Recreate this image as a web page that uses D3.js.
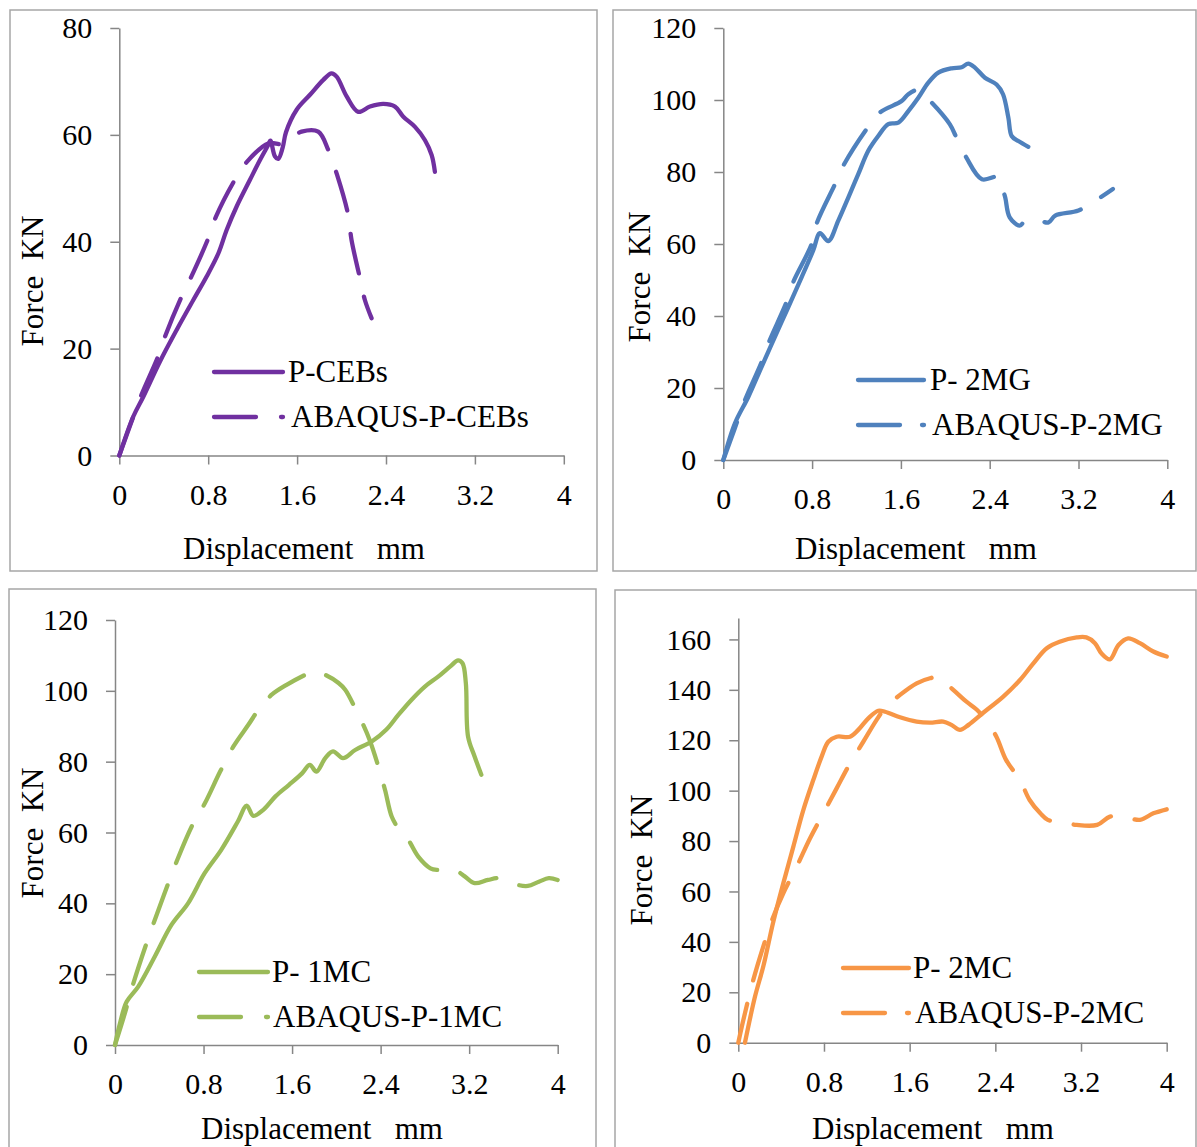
<!DOCTYPE html>
<html>
<head>
<meta charset="utf-8">
<script src="https://cdn.jsdelivr.net/npm/d3@7"></script>
</head>
<body style="margin:0">
<svg id="chart" width="1197" height="1147"></svg>
<script>
"use strict";
// ---- data: [displacement mm, force kN] ----
const xTicks = [0, 0.8, 1.6, 2.4, 3.2, 4];
const ticks80 = [0, 20, 40, 60, 80];
const ticks120 = [0, 20, 40, 60, 80, 100, 120];
const ticks160 = [0, 20, 40, 60, 80, 100, 120, 140, 160];

const pCEBs = [[0,0],[0.126,7.3],[0.216,11.0],[0.366,17.6],[0.516,23.5],[0.666,29.1],[0.786,33.5],[0.891,37.8],[0.966,42.2],[1.056,46.6],[1.176,51.6],[1.266,55.3],[1.34,58.1],[1.36,58.9],[1.40,56.0],[1.43,55.5],[1.47,57.6],[1.50,60.5],[1.596,64.7],[1.716,67.5],[1.836,70.3],[1.91,71.5],[1.956,70.9],[2.046,67.2],[2.151,64.3],[2.256,65.3],[2.376,65.8],[2.481,65.3],[2.556,63.4],[2.661,61.5],[2.751,59.0],[2.811,56.2],[2.84,53.1]];
const abaqusCEBs = [[0,0],[0.13,7.5],[0.2,11.4],[0.35,18.6],[0.41,22.2],[0.56,29.7],[0.64,33.1],[0.80,40.6],[0.87,44.7],[1.04,51.6],[1.15,55.0],[1.34,58.4],[1.47,58.3],[1.55,59.5],[1.64,60.6],[1.79,60.6],[1.88,57.2],[1.96,52.5],[2.06,45.0],[2.09,40.3],[2.17,32.8],[2.21,29.1],[2.27,25.7]];

const p2MG = [[0,0],[0.105,10.2],[0.225,17.5],[0.345,25.9],[0.465,34.2],[0.586,42.5],[0.706,50.8],[0.81,58.2],[0.871,63.0],[0.946,60.8],[1.036,66.5],[1.126,72.9],[1.216,79.4],[1.306,85.9],[1.396,90.0],[1.486,93.3],[1.577,93.7],[1.667,96.9],[1.757,100.6],[1.847,104.8],[1.937,107.6],[2.057,108.8],[2.147,109.1],[2.207,110.1],[2.267,109.0],[2.357,106.2],[2.462,104.3],[2.52,101.6],[2.568,95.1],[2.598,90.0],[2.658,88.6],[2.748,87.0]];
const abaqus2MG = [[0,0],[0.1,8.5],[0.195,16.6],[0.345,27.2],[0.405,32.3],[0.57,43.9],[0.63,49.4],[0.796,60.0],[0.84,65.6],[1.006,76.6],[1.08,81.7],[1.29,91.9],[1.41,96.5],[1.607,99.7],[1.667,101.6],[1.76,102.9],[1.8,101.5],[1.877,99.3],[2.04,93.3],[2.10,89.6],[2.19,84.0],[2.33,78.0],[2.48,78.7],[2.51,76.0],[2.54,72.9],[2.58,67.4],[2.67,65.1],[2.72,66.5],[2.8,66.8],[2.85,66.5],[2.93,66.0],[2.99,67.9],[3.2,69.3],[3.35,72.0],[3.51,75.3]];

const p1MC = [[0,0],[0.045,6.1],[0.105,12.2],[0.21,16.5],[0.36,25.0],[0.51,33.9],[0.66,40.0],[0.81,48.5],[0.96,55.1],[1.11,63.1],[1.19,67.6],[1.25,64.7],[1.34,66.4],[1.45,70.2],[1.57,73.4],[1.69,76.7],[1.76,79.1],[1.82,77.2],[1.90,81.0],[1.97,82.9],[2.06,81.0],[2.17,83.3],[2.32,85.7],[2.45,89.0],[2.56,93.2],[2.68,97.5],[2.80,101.2],[2.92,104.0],[3.03,106.9],[3.10,108.6],[3.14,107.8],[3.17,102.2],[3.19,87.1],[3.25,81.4],[3.31,76.3]];
const abaqus1MC = [[0,0],[0.08,8.0],[0.166,17.4],[0.30,30.1],[0.437,41.9],[0.557,51.8],[0.693,61.7],[0.813,68.3],[0.95,77.2],[1.07,84.3],[1.205,90.4],[1.295,94.6],[1.416,98.9],[1.55,101.7],[1.717,104.5],[1.79,105.5],[1.90,104.5],[2.02,102.2],[2.08,100.3],[2.17,95.1],[2.23,91.3],[2.30,86.2],[2.38,78.6],[2.44,72.0],[2.50,64.5],[2.56,61.2],[2.65,57.9],[2.74,53.2],[2.85,49.9],[2.92,49.4],[3.07,49.4],[3.16,47.6],[3.25,45.7],[3.37,46.6],[3.48,47.1],[3.64,45.2],[3.73,44.9],[3.83,46.1],[3.92,47.1],[4.0,46.6]];

const p2MC = [[0.062,0],[0.156,18.3],[0.233,30.2],[0.327,48.0],[0.42,63.2],[0.514,77.8],[0.607,92.3],[0.70,104.2],[0.778,113.5],[0.84,119.4],[0.918,121.4],[1.043,121.4],[1.12,124.1],[1.214,128.7],[1.307,131.7],[1.37,131.3],[1.51,129.1],[1.665,127.4],[1.79,127.0],[1.914,127.4],[1.99,126.1],[2.07,124.1],[2.15,126.1],[2.29,131.0],[2.474,137.3],[2.63,143.9],[2.755,150.5],[2.88,156.5],[3.0,159.1],[3.16,160.8],[3.25,160.8],[3.33,158.5],[3.39,154.5],[3.47,152.1],[3.55,157.8],[3.64,160.4],[3.75,158.5],[3.875,155.2],[4.0,153.2]];
const abaqus2MC = [[0,0],[0.047,9],[0.14,24.9],[0.233,38.1],[0.327,50.0],[0.42,59.3],[0.545,69.8],[0.67,81.1],[0.794,91.0],[0.918,100.9],[1.043,110.8],[1.167,119.4],[1.29,128.0],[1.37,132.7],[1.51,138.0],[1.665,142.6],[1.79,144.6],[1.867,145.0],[2.007,140.0],[2.13,135.3],[2.23,132.0],[2.32,127.4],[2.41,121.4],[2.50,112.2],[2.63,104.2],[2.72,96.3],[2.82,91.0],[2.89,88.4],[3.0,87.7],[3.16,86.4],[3.35,86.4],[3.47,89.7],[3.6,89.7],[3.75,88.4],[3.875,91.0],[4.0,92.6]];

(function () {
  const svg = d3.select("#chart");
  const axisColor = "#868686";
  const dash = "40 24";
  const serif = "'Liberation Serif'";
  const nb = "\u00a0";

  const panels = [
    {
      border: [10, 10, 597, 571],
      plot: { left: 119.3, right: 563.8, top: 28, bottom: 455.5 },
      yMax: 80, yTicks: ticks80, color: "#7030A0",
      series: [pCEBs, abaqusCEBs], names: ["P-CEBs", "ABAQUS-P-CEBs"],
      legend: { x1: 214, x2: 283, rows: [372, 417], textX: [288, 291] },
      xTitle: [183, 559], yTitle: [43, 281],
    },
    {
      border: [613, 10, 1196, 571],
      plot: { left: 723.3, right: 1167.3, top: 28, bottom: 460 },
      yMax: 120, yTicks: ticks120, color: "#4F81BD",
      series: [p2MG, abaqus2MG], names: ["P-" + nb + "2MG", "ABAQUS-P-2MG"],
      legend: { x1: 858, x2: 924, rows: [380, 425], textX: [930, 932] },
      xTitle: [795, 559], yTitle: [650, 277],
    },
    {
      border: [9, 589, 596, 1160],
      plot: { left: 115, right: 557.7, top: 620, bottom: 1045 },
      yMax: 120, yTicks: ticks120, color: "#9BBB59",
      series: [p1MC, abaqus1MC], names: ["P-" + nb + "1MC", "ABAQUS-P-1MC"],
      legend: { x1: 199, x2: 268, rows: [972, 1017], textX: [272, 273] },
      xTitle: [201, 1139], yTitle: [43, 833],
    },
    {
      border: [615, 590, 1196, 1160],
      plot: { left: 738.3, right: 1166.7, top: 618, bottom: 1042.7 },
      yMax: 168.5, yTicks: ticks160, color: "#F79646",
      series: [p2MC, abaqus2MC], names: ["P-" + nb + "2MC", "ABAQUS-P-2MC"],
      legend: { x1: 843, x2: 909, rows: [968, 1013], textX: [913, 915] },
      xTitle: [812, 1139], yTitle: [652, 860],
    },
  ];

  panels.forEach((p) => renderPanel(p));

  function renderPanel(p) {
    const g = svg.append("g");
    const [bx1, by1, bx2, by2] = p.border;
    g.append("rect")
      .attr("x", bx1).attr("y", by1)
      .attr("width", bx2 - bx1).attr("height", by2 - by1)
      .attr("fill", "none").attr("stroke", "#a6a6a6").attr("stroke-width", 1.5);

    const x = d3.scaleLinear().domain([0, 4]).range([p.plot.left, p.plot.right]);
    const y = d3.scaleLinear().domain([0, p.yMax]).range([p.plot.bottom, p.plot.top]);

    const gx = g.append("g")
      .attr("transform", `translate(0,${p.plot.bottom})`)
      .call(d3.axisBottom(x).tickValues(xTicks).tickFormat(d3.format("")).tickSize(9).tickSizeOuter(0).tickPadding(19));
    const gy = g.append("g")
      .attr("transform", `translate(${p.plot.left},0)`)
      .call(d3.axisLeft(y).tickValues(p.yTicks).tickSize(9).tickSizeOuter(0).tickPadding(18));
    [gx, gy].forEach((a) => {
      a.attr("font-family", serif).attr("font-size", 30);
      a.select(".domain").attr("stroke", axisColor).attr("stroke-width", 1.5);
      a.selectAll(".tick line").attr("stroke", axisColor).attr("stroke-width", 1.5);
      a.selectAll("text").attr("fill", "#000").attr("font-family", serif).attr("font-size", 30);
    });

    const line = d3.line()
      .x((d) => x(d[0]))
      .y((d) => y(d[1]))
      .curve(d3.curveCatmullRom.alpha(0.5));

    p.series.forEach((s, i) => {
      g.append("path")
        .datum(s)
        .attr("d", line)
        .attr("fill", "none")
        .attr("stroke", p.color)
        .attr("stroke-width", 4.3)
        .attr("stroke-linecap", "round")
        .attr("stroke-linejoin", "round")
        .attr("stroke-dasharray", i === 1 ? dash : null);
    });

    // legend: dashed sample shows one long dash and a dot, as in the picture
    const len = p.legend.x2 - p.legend.x1;
    p.names.forEach((name, i) => {
      const ry = p.legend.rows[i];
      g.append("line")
        .attr("x1", p.legend.x1).attr("x2", p.legend.x2)
        .attr("y1", ry).attr("y2", ry)
        .attr("stroke", p.color).attr("stroke-width", 4.3)
        .attr("stroke-linecap", "round")
        .attr("stroke-dasharray", i === 1 ? `42 ${len - 44}` : null);
      g.append("text")
        .attr("x", p.legend.textX[i]).attr("y", ry + 10)
        .attr("font-family", serif)
        .attr("font-size", 31)
        .text(name);
    });

    g.append("text")
      .attr("x", p.xTitle[0]).attr("y", p.xTitle[1])
      .attr("font-family", serif)
      .attr("font-size", 31)
      .text("Displacement" + nb + nb + nb + "mm");
    g.append("text")
      .attr("transform", `translate(${p.yTitle[0]},${p.yTitle[1]}) rotate(-90)`)
      .attr("text-anchor", "middle")
      .attr("font-family", serif)
      .attr("font-size", 31)
      .text("Force" + nb + nb + "KN");
  }
})();
</script>
</body>
</html>
